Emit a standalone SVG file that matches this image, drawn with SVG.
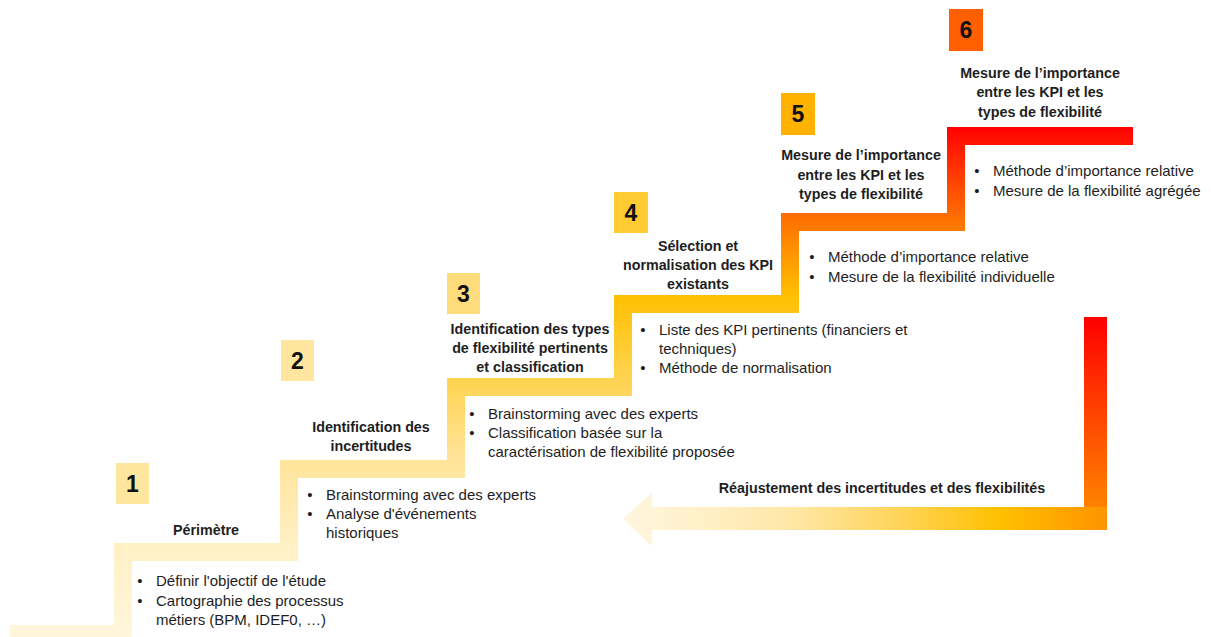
<svg xmlns="http://www.w3.org/2000/svg" width="1211" height="637" viewBox="0 0 1211 637">
<defs>
<linearGradient id="stairGrad" gradientUnits="userSpaceOnUse" x1="0" y1="637" x2="0" y2="127">
<stop offset="0" stop-color="#fff6dc"/>
<stop offset="0.184" stop-color="#fff0c4"/>
<stop offset="0.347" stop-color="#ffe49a"/>
<stop offset="0.508" stop-color="#ffd34f"/>
<stop offset="0.671" stop-color="#ffc000"/>
<stop offset="0.831" stop-color="#ff6a00"/>
<stop offset="1" stop-color="#ff0000"/>
</linearGradient>
<linearGradient id="vbarGrad" gradientUnits="userSpaceOnUse" x1="0" y1="317" x2="0" y2="530">
<stop offset="0" stop-color="#ff0000"/>
<stop offset="0.5" stop-color="#ff4a00"/>
<stop offset="1" stop-color="#ff9200"/>
</linearGradient>
<linearGradient id="hbarGrad" gradientUnits="userSpaceOnUse" x1="623" y1="0" x2="1107" y2="0">
<stop offset="0" stop-color="#fff6e0"/>
<stop offset="0.16" stop-color="#fff0c8"/>
<stop offset="0.37" stop-color="#ffe6a0"/>
<stop offset="0.57" stop-color="#ffd45a"/>
<stop offset="0.78" stop-color="#ffc000"/>
<stop offset="1" stop-color="#ff9400"/>
</linearGradient>
<style>
.lbl{font-family:"Liberation Sans",Arial,sans-serif;font-size:14.3px;font-weight:bold;fill:#1e1e1e;text-anchor:middle}
.txt{font-family:"Liberation Sans",Arial,sans-serif;font-size:15px;fill:#1e1e1e}
.bul{font-family:"Liberation Sans",Arial,sans-serif;font-size:15px;fill:#1e1e1e;text-anchor:middle}
.num{font-family:"Liberation Sans",Arial,sans-serif;font-size:23px;font-weight:bold;fill:#111;text-anchor:middle}
</style>
</defs>
<rect width="1211" height="637" fill="#ffffff"/>

<g id="stairs">
<path d="M10,625 H114 V543 H280 V460 H447 V378 H614 V295 H781 V213 H947 V127 H1133 V145 H965 V231 H799 V313 H632 V396 H465 V478 H298 V561 H132 V643 H10 Z" fill="url(#stairGrad)"/>
</g>

<g id="connectors">
<rect x="1084" y="317" width="23" height="191" fill="url(#vbarGrad)"/>
<path d="M1107,507 V530 H652 V546 L623,518.5 L652,493 V507 Z" fill="url(#hbarGrad)"/>
<text class="lbl" x="882" y="493">Réajustement des incertitudes et des flexibilités</text>
</g>

<g id="step1">
<rect x="116" y="463" width="33" height="41" fill="#ffe69f"/>
<text class="num" x="132.5" y="492">1</text>
<text class="lbl" x="206" y="535">Périmètre</text>
<text class="bul" x="140" y="586">•</text>
<text class="txt" x="156" y="586">Définir l'objectif de l'étude</text>
<text class="bul" x="140" y="605.5">•</text>
<text class="txt" x="156" y="605.5">Cartographie des processus</text>
<text class="txt" x="156" y="625">métiers (BPM, IDEF0, …)</text>
</g>

<g id="step2">
<rect x="281" y="340" width="33" height="41" fill="#ffe69f"/>
<text class="num" x="297.5" y="369">2</text>
<text class="lbl" x="371" y="432">Identification des</text>
<text class="lbl" x="371" y="451">incertitudes</text>
<text class="bul" x="310" y="500">•</text>
<text class="txt" x="326" y="500">Brainstorming avec des experts</text>
<text class="bul" x="310" y="519">•</text>
<text class="txt" x="326" y="519">Analyse d'événements</text>
<text class="txt" x="326" y="538">historiques</text>
</g>

<g id="step3">
<rect x="447" y="273" width="33" height="41" fill="#fedc7c"/>
<text class="num" x="463.5" y="302">3</text>
<text class="lbl" x="530" y="334">Identification des types</text>
<text class="lbl" x="530" y="353">de flexibilité pertinents</text>
<text class="lbl" x="530" y="372">et classification</text>
<text class="bul" x="472" y="419">•</text>
<text class="txt" x="488" y="419">Brainstorming avec des experts</text>
<text class="bul" x="472" y="438">•</text>
<text class="txt" x="488" y="438">Classification basée sur la</text>
<text class="txt" x="488" y="457">caractérisation de flexibilité proposée</text>
</g>

<g id="step4">
<rect x="614" y="192" width="34" height="41" fill="#fecb33"/>
<text class="num" x="631" y="221">4</text>
<text class="lbl" x="698" y="251">Sélection et</text>
<text class="lbl" x="698" y="270">normalisation des KPI</text>
<text class="lbl" x="698" y="289">existants</text>
<text class="bul" x="643" y="335">•</text>
<text class="txt" x="659" y="335">Liste des KPI pertinents (financiers et</text>
<text class="txt" x="659" y="354">techniques)</text>
<text class="bul" x="643" y="373">•</text>
<text class="txt" x="659" y="373">Méthode de normalisation</text>
</g>

<g id="step5">
<rect x="781" y="93" width="34" height="42" fill="#ffb300"/>
<text class="num" x="798" y="122">5</text>
<text class="lbl" x="861" y="160">Mesure de l’importance</text>
<text class="lbl" x="861" y="180">entre les KPI et les</text>
<text class="lbl" x="861" y="199">types de flexibilité</text>
<text class="bul" x="812" y="262">•</text>
<text class="txt" x="828" y="262">Méthode d’importance relative</text>
<text class="bul" x="812" y="282">•</text>
<text class="txt" x="828" y="282">Mesure de la flexibilité individuelle</text>
</g>

<g id="step6">
<rect x="949" y="9" width="34" height="42" fill="#ff5f00"/>
<text class="num" x="966" y="38">6</text>
<text class="lbl" x="1040" y="78">Mesure de l’importance</text>
<text class="lbl" x="1040" y="97">entre les KPI et les</text>
<text class="lbl" x="1040" y="117">types de flexibilité</text>
<text class="bul" x="977" y="176">•</text>
<text class="txt" x="993" y="176">Méthode d’importance relative</text>
<text class="bul" x="977" y="196">•</text>
<text class="txt" x="993" y="196">Mesure de la flexibilité agrégée</text>
</g>
</svg>
